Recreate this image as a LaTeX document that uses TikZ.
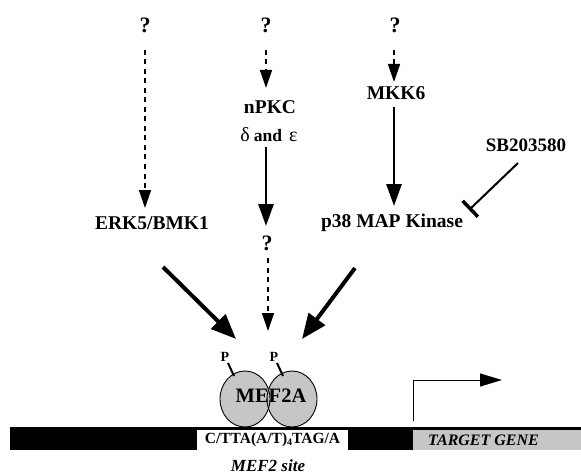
\documentclass[tikz,border=0pt]{standalone}
\usepackage{fontspec}
\setmainfont{Liberation Serif}
\usetikzlibrary{arrows.meta}
\begin{document}
\begin{tikzpicture}[x=1pt,y=-1pt,
 lbl/.style={font=\fontsize{19.5}{21}\selectfont\bfseries, inner sep=1pt},
 qm/.style={font=\fontsize{22}{24}\selectfont\bfseries, inner sep=1pt},
 darr/.style={dash pattern=on 5pt off 4.5pt, line width=1.4pt, -{Triangle[length=18pt,width=12pt]}},
 sarr/.style={line width=2.7pt, -{Triangle[length=22pt,width=15pt]}},
 barr/.style={line width=4pt, -{Triangle[length=25pt,width=20pt]}},
 inh/.style={line width=2pt, -{Bar[width=22pt,line width=3.5pt]}},
 stip/.style={fill=gray!45},
]
\useasboundingbox[fill=white] (0,0) rectangle (581,476);

% top question marks
\node[qm] (q1) at (145,25) {?};
\node[qm] (q2) at (266,25) {?};
\node[qm] (q3) at (395,25) {?};

% labels
\node[lbl] (erk) at (152,223) {ERK5/BMK1};
\node[lbl] (npkc) at (270,107) {nPKC};
\node[font=\fontsize{20}{22}\selectfont, inner sep=1pt] (de) at (269,135) {δ\hspace{4pt}\textbf{\fontsize{17.5}{19}\selectfont and}\hspace{2pt} ε};
\node[qm] (q4) at (267,243) {?};
\node[lbl] (mkk) at (396,93) {MKK6};
\node[lbl] (p38) at (392,223) {p38 MAP Kinase};
\node[font=\fontsize{19}{21}\selectfont\bfseries, inner sep=1pt] (sb) at (526,145) {SB203580};

% connector end points
\coordinate (d1s) at (145,50);  \coordinate (d1e) at (145,208);
\coordinate (d2s) at (266,50);  \coordinate (d2e) at (266,88);
\coordinate (d3s) at (394,50);  \coordinate (d3e) at (394,82);
\coordinate (d4s) at (268,258); \coordinate (d4e) at (268,331);
\coordinate (s1s) at (266,147); \coordinate (s1e) at (266,226);
\coordinate (s2s) at (394,107); \coordinate (s2e) at (394,206);
\coordinate (b1s) at (163,267); \coordinate (b1e) at (236,339);
\coordinate (b2s) at (355,268); \coordinate (b2e) at (302,339);
\coordinate (is) at (518,163);  \coordinate (ie) at (469,210);

\draw[darr] (d1s) -- (d1e);
\draw[darr] (d2s) -- (d2e);
\draw[darr] (d3s) -- (d3e);
\draw[darr] (d4s) -- (d4e);
\draw[sarr] (s1s) -- (s1e);
\draw[sarr] (s2s) -- (s2e);
\draw[barr] (b1s) -- (b1e);
\draw[barr] (b2s) -- (b2e);
\draw[inh] (is) -- (ie);

% DNA bar
\fill[black] (10,427) rectangle (581,450);
\node[fill=white, minimum width=151pt, minimum height=21pt, inner sep=0pt,
      font=\fontsize{15.5}{17}\selectfont\bfseries] (site) at (272.5,440)
      {C/TTA(A/T)\raisebox{-0.25ex}{\fontsize{10}{12}\selectfont 4}TAG/A};
\node[stip, minimum width=168pt, minimum height=20pt, inner sep=0pt, anchor=west] (gene) at (413,440) {};
\node[font=\fontsize{16}{18}\selectfont\bfseries\itshape, anchor=west, inner sep=0pt] (genetxt) at (428,440) {TARGET GENE};
\node[font=\fontsize{17}{19}\selectfont\bfseries\itshape] (sitelbl) at (268,466) {MEF2 site};

% MEF2A dimer
\fill[stip] (245,399) ellipse [x radius=25, y radius=28];
\fill[stip] (292,399) ellipse [x radius=25, y radius=28];
\draw[line width=0.9pt] (245,399) ellipse [x radius=25, y radius=28];
\draw[line width=0.9pt] (292,399) ellipse [x radius=25, y radius=28];
\node[font=\fontsize{20.5}{22}\selectfont\bfseries] (mef) at (271,396) {MEF2A};

% phosphates
\node[font=\fontsize{14}{16}\selectfont\bfseries, inner sep=0pt] (p1) at (225,357) {P};
\node[font=\fontsize{14}{16}\selectfont\bfseries, inner sep=0pt] (p2) at (274,357) {P};
\coordinate (p1a) at (228,363); \coordinate (p1b) at (234,376);
\coordinate (p2a) at (277,363); \coordinate (p2b) at (283,376);
\draw[line width=2pt] (p1a) -- (p1b);
\draw[line width=2pt] (p2a) -- (p2b);

% transcription start arrow
\coordinate (t0) at (413,421); \coordinate (t1) at (413,380); \coordinate (t2) at (502,380);
\draw[line width=1pt, -{Triangle[length=22pt,width=13pt]}] (t0) -- (t1) -- (t2);
\end{tikzpicture}
\end{document}
